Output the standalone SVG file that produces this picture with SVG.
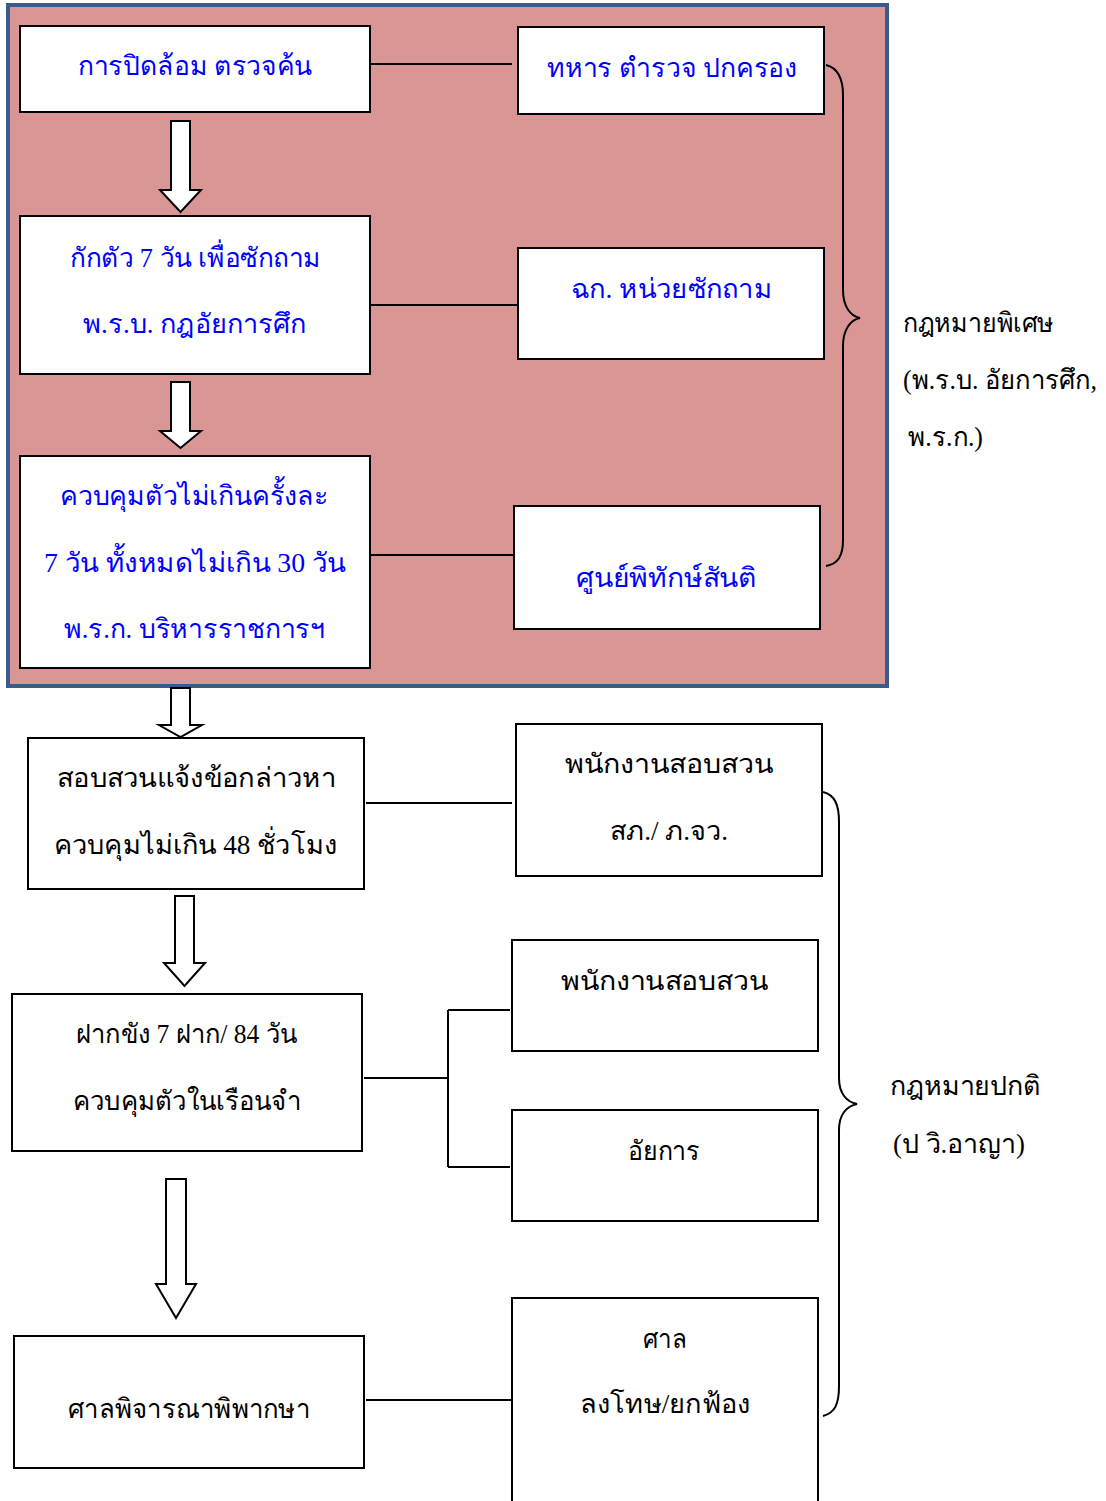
<svg xmlns="http://www.w3.org/2000/svg" width="1106" height="1501" viewBox="0 0 1106 1501">
<style>
.box{fill:#fff;stroke:#000;stroke-width:2}
.ln{fill:none;stroke:#000;stroke-width:2}
.arr{fill:#fff;stroke:#000;stroke-width:2;stroke-linejoin:miter}
text{font-family:"Liberation Serif","DejaVu Serif",serif;font-size:27px;text-anchor:middle}
.b{fill:#0000ff}
.k{fill:#000}
.l{text-anchor:start}
</style>
<rect width="1106" height="1501" fill="#fff"/>
<rect x="8" y="5" width="879" height="681" fill="#d99694" stroke="#3b5b8b" stroke-width="4"/>
<g id="connectors">
<path class="ln" d="M367 64H512"/>
<path class="ln" d="M370 305H518"/>
<path class="ln" d="M370 555H514"/>
<path class="ln" d="M366 803H512"/>
<path class="ln" d="M364 1078H448M448 1010V1167M448 1010H510M448 1167H510"/>
<path class="ln" d="M366 1400H512"/>
<path class="arr" d="M171 121H190V190H201L180.5 212L160 190H171Z"/>
<path class="arr" d="M171 382H190V431H201L180.5 448L160 431H171Z"/>
<path class="arr" d="M171 688H190V725H202L180.5 737L159 725H171Z"/>
<path class="arr" d="M175 896H194V963H205L184.5 986L164 963H175Z"/>
<path class="arr" d="M166 1179H186V1284H196L176 1318L156 1284H166Z"/>
</g>
<g id="brace1"><path class="ln" d="M826 65C838 68 843 78 843 95V290C843 306 850 316 860 318C850 320 843 330 843 346V540C843 556 838 564 826 566"/></g>
<g id="brace2"><path class="ln" d="M823 792C835 795 839 805 839 822V1078C839 1094 847 1102 857 1104C847 1106 839 1114 839 1130V1386C839 1404 835 1413 823 1416"/></g>
<g id="n1"><rect class="box" x="20" y="26" width="350" height="86"/><text class="b" x="195" y="75" textLength="234" lengthAdjust="spacingAndGlyphs">การปิดล้อม ตรวจค้น</text></g>
<g id="n2"><rect class="box" x="20" y="216" width="350" height="158"/><text class="b" x="195.5" y="267" textLength="251" lengthAdjust="spacingAndGlyphs">กักตัว 7 วัน เพื่อซักถาม</text><text class="b" x="194.5" y="333" textLength="223" lengthAdjust="spacingAndGlyphs">พ.ร.บ. กฎอัยการศึก</text></g>
<g id="n3"><rect class="box" x="20" y="456" width="350" height="212"/><text class="b" x="194.5" y="505" textLength="269" lengthAdjust="spacingAndGlyphs">ควบคุมตัวไม่เกินครั้งละ</text><text class="b" x="195" y="572" textLength="302" lengthAdjust="spacingAndGlyphs">7 วัน ทั้งหมดไม่เกิน 30 วัน</text><text class="b" x="194.5" y="638" textLength="261" lengthAdjust="spacingAndGlyphs">พ.ร.ก. บริหารราชการฯ</text></g>
<g id="r1"><rect class="box" x="518" y="27" width="306" height="87"/><text class="b" x="672" y="77" textLength="250" lengthAdjust="spacingAndGlyphs">ทหาร ตำรวจ ปกครอง</text></g>
<g id="r2"><rect class="box" x="518" y="248" width="306" height="111"/><text class="b" x="671.5" y="298" textLength="201" lengthAdjust="spacingAndGlyphs">ฉก. หน่วยซักถาม</text></g>
<g id="r3"><rect class="box" x="514" y="506" width="306" height="123"/><text class="b" x="666.5" y="587" textLength="181" lengthAdjust="spacingAndGlyphs">ศูนย์พิทักษ์สันติ</text></g>
<g id="lbl1"><text class="k l" x="903" y="332" textLength="151" lengthAdjust="spacingAndGlyphs">กฎหมายพิเศษ</text><text class="k l" x="903" y="389" textLength="194" lengthAdjust="spacingAndGlyphs">(พ.ร.บ. อัยการศึก,</text><text class="k l" x="908" y="446" textLength="75" lengthAdjust="spacingAndGlyphs">พ.ร.ก.)</text></g>
<g id="n4"><rect class="box" x="28" y="738" width="336" height="151"/><text class="k" x="196.5" y="787" textLength="279" lengthAdjust="spacingAndGlyphs">สอบสวนแจ้งข้อกล่าวหา</text><text class="k" x="195.5" y="854" textLength="283" lengthAdjust="spacingAndGlyphs">ควบคุมไม่เกิน 48 ชั่วโมง</text></g>
<g id="n5"><rect class="box" x="12" y="994" width="350" height="157"/><text class="k" x="186.5" y="1043" textLength="221" lengthAdjust="spacingAndGlyphs">ฝากขัง 7 ฝาก/ 84 วัน</text><text class="k" x="187" y="1110" textLength="228" lengthAdjust="spacingAndGlyphs">ควบคุมตัวในเรือนจำ</text></g>
<g id="n6"><rect class="box" x="14" y="1336" width="350" height="132"/><text class="k" x="189" y="1418" textLength="242" lengthAdjust="spacingAndGlyphs">ศาลพิจารณาพิพากษา</text></g>
<g id="r4"><rect class="box" x="516" y="724" width="306" height="152"/><text class="k" x="669" y="773" textLength="208" lengthAdjust="spacingAndGlyphs">พนักงานสอบสวน</text><text class="k" x="669" y="840" textLength="118" lengthAdjust="spacingAndGlyphs">สภ./ ภ.จว.</text></g>
<g id="r5"><rect class="box" x="512" y="940" width="306" height="111"/><text class="k" x="664.5" y="990" textLength="207" lengthAdjust="spacingAndGlyphs">พนักงานสอบสวน</text></g>
<g id="r6"><rect class="box" x="512" y="1110" width="306" height="111"/><text class="k" x="664" y="1160" textLength="72" lengthAdjust="spacingAndGlyphs">อัยการ</text></g>
<g id="r7"><rect class="box" x="512" y="1298" width="306" height="210"/><text class="k" x="665" y="1348" textLength="44" lengthAdjust="spacingAndGlyphs">ศาล</text><text class="k" x="665" y="1413" textLength="170" lengthAdjust="spacingAndGlyphs">ลงโทษ/ยกฟ้อง</text></g>
<g id="lbl2"><text class="k l" x="890" y="1095" textLength="151" lengthAdjust="spacingAndGlyphs">กฎหมายปกติ</text><text class="k l" x="893" y="1153" textLength="132" lengthAdjust="spacingAndGlyphs">(ป วิ.อาญา)</text></g>
</svg>
